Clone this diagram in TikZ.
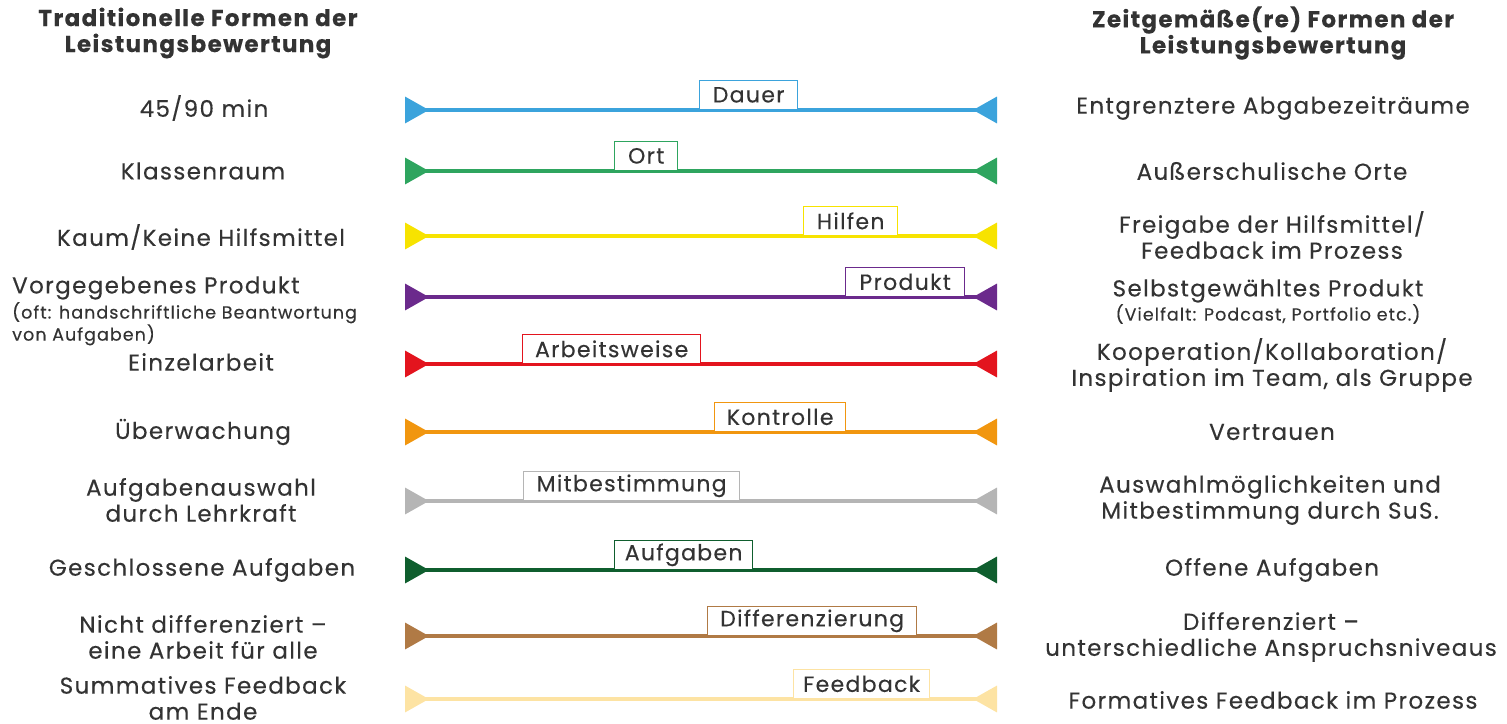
\documentclass[tikz,border=0pt]{standalone}
\usepackage{fontspec}
\setmainfont{Poppins}[LetterSpace=6,FakeBold=0.3]
\usetikzlibrary{arrows.meta}
\definecolor{ink}{HTML}{333333}
\definecolor{cDauer}{HTML}{3BA3DC}
\definecolor{cOrt}{HTML}{2EA55F}
\definecolor{cHilfen}{HTML}{F7E300}
\definecolor{cProdukt}{HTML}{6B2A8C}
\definecolor{cArbeit}{HTML}{E3141E}
\definecolor{cKontrolle}{HTML}{F1960F}
\definecolor{cMitbest}{HTML}{B5B5B5}
\definecolor{cAufgaben}{HTML}{0F5E2E}
\definecolor{cDiff}{HTML}{B07A45}
\definecolor{cFeedback}{HTML}{FDE3A3}
\tikzset{
  scale bar/.style={draw=#1, line width=3.5pt,
    {Triangle[reversed,length=24pt 0,width=26pt 0]}-{Triangle[reversed,length=24pt 0,width=26pt 0]}},
  tag/.style={draw=#1, fill=white, line width=1.3pt, text=ink, inner sep=0pt,
    minimum height=29pt, font=\fontsize{22}{24}\selectfont},
  side/.style={text=ink, align=center, font=\fontsize{23}{26}\selectfont},
  small/.style={text=ink, align=left, inner sep=0pt, font=\fontsize{17.5}{17}\selectfont},
  head/.style={text=ink, align=center, font=\fontsize{23}{26}\selectfont\bfseries}
}
\begin{document}
\begin{tikzpicture}[x=1pt,y=-1pt]
\useasboundingbox (0,0) rectangle (1507,723);
% headings
\node[head] (hl) at (198,33) {Traditionelle Formen der\\Leistungsbewertung};
\node[head] (hr) at (1273,33) {Zeitgemäße(re) Formen der\\Leistungsbewertung};
% scales
\foreach \y/\c/\lab/\bl/\br [count=\i] in {
  110/cDauer/Dauer/699/797,
  171/cOrt/Ort/614/677,
  236/cHilfen/Hilfen/803/897,
  297/cProdukt/Produkt/845/964,
  364/cArbeit/Arbeitsweise/522/700,
  432/cKontrolle/Kontrolle/714/845,
  501/cMitbest/Mitbestimmung/523/739,
  570/cAufgaben/Aufgaben/614/752,
  636/cDiff/Differenzierung/707/916,
  699/cFeedback/Feedback/793/929}
{
  \coordinate (l\i) at (405,\y);
  \coordinate (r\i) at (997,\y);
  \draw[scale bar=\c] (l\i) -- (r\i);
  \node[tag=\c, anchor=south west, minimum width=\br-\bl] (t\i) at (\bl,\y) {\lab};
}
% left side
\node[side] (a1) at (204,108) {45/90 min};
\node[side] (a2) at (203,171) {Klassenraum};
\node[side] (a3) at (201,237) {Kaum/Keine Hilfsmittel};
\node[side, anchor=west, inner xsep=0pt] (a4) at (12,288) {Vorgegebenes Produkt};
\node[small, anchor=north west] (a4s) at (12,302) {(oft: handschriftliche Beantwortung\\von Aufgaben)};
\node[side] (a5) at (201,362) {Einzelarbeit};
\node[side] (a6) at (203,432) {Überwachung};
\node[side] (a7) at (201,500) {Aufgabenauswahl\\durch Lehrkraft};
\node[side] (a8) at (202,570) {Geschlossene Aufgaben};
\node[side] (a9) at (203,637) {Nicht differenziert –\\eine Arbeit für alle};
\node[side] (a10) at (203,698) {Summatives Feedback\\am Ende};
% right side
\node[side] (b1) at (1273,108) {Entgrenztere Abgabezeiträume};
\node[side] (b2) at (1272,171) {Außerschulische Orte};
\node[side] (b3) at (1272,235) {Freigabe der Hilfsmittel/\\Feedback im Prozess};
\node[side] (b4) at (1268,291) {Selbstgewähltes Produkt};
\node[small, align=center] (b4s) at (1268,314) {(Vielfalt: Podcast, Portfolio etc.)};
\node[side] (b5) at (1272,365) {Kooperation/Kollaboration/\\Inspiration im Team, als Gruppe};
\node[side] (b6) at (1272,432) {Vertrauen};
\node[side] (b7) at (1270,500) {Auswahlmöglichkeiten und\\Mitbestimmung durch SuS.};
\node[side] (b8) at (1272,570) {Offene Aufgaben};
\node[side] (b9) at (1271,637) {Differenziert –\\unterschiedliche Anspruchsniveaus};
\node[side] (b10) at (1273,700) {Formatives Feedback im Prozess};
\end{tikzpicture}
\end{document}
